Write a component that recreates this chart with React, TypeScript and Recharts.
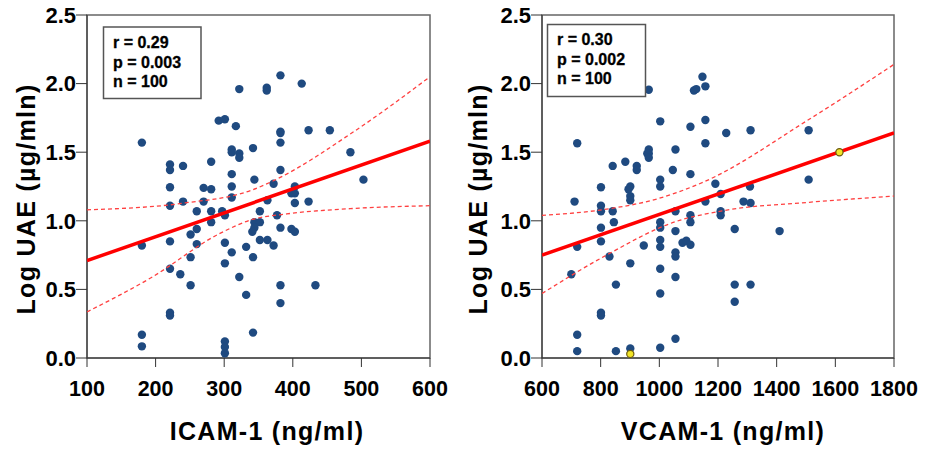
import React from 'react';
import { ScatterChart, Scatter, XAxis, YAxis, ReferenceArea } from 'recharts';

// ---------- data ----------
const icamX = [180, 221, 221, 240, 281, 292, 301, 317, 322, 311, 311, 322, 322, 311, 342, 344, 362, 362, 382, 382, 382, 382, 382, 413, 423, 454, 484, 503,
  221, 270, 281, 311, 372, 403, 403, 398, 403, 363, 311, 240, 221, 270, 260, 281, 297, 301, 352, 377, 423,
  281, 260, 344, 352, 344, 341, 382, 398, 403, 251, 221, 180, 260, 301, 352, 363, 372, 332, 311, 251, 342, 301,
  221, 236, 322, 251, 382, 433, 332, 382, 221, 221, 180, 180, 301, 301, 301, 342];
const icamUAE = [1.57, 1.41, 1.37, 1.40, 1.43, 1.73, 1.74, 1.69, 1.96, 1.52, 1.50, 1.49, 1.46, 1.34, 1.53, 1.30, 1.97, 1.95, 2.06, 1.65, 1.64, 1.57, 1.37, 2.00, 1.66, 1.66, 1.50, 1.30,
  1.245, 1.24, 1.23, 1.25, 1.27, 1.25, 1.20, 1.20, 1.13, 1.15, 1.17, 1.14, 1.11, 1.14, 1.07, 1.07, 1.07, 1.04, 1.07, 1.04, 1.14,
  0.99, 0.94, 0.99, 0.99, 0.95, 0.92, 0.95, 0.94, 0.92, 0.90, 0.85, 0.82, 0.83, 0.84, 0.86, 0.86, 0.82, 0.81, 0.77, 0.735, 0.735, 0.69,
  0.65, 0.61, 0.59, 0.53, 0.53, 0.53, 0.46, 0.40, 0.33, 0.31, 0.17, 0.085, 0.12, 0.08, 0.035, 0.185];

const vcamX = [720, 841, 884, 923, 923, 964, 964, 964, 959, 964, 1003, 1003, 1046, 1055, 1106, 1106, 1118, 1126, 1147, 1157, 1157, 1157, 1228, 1311, 1509, 1509,
  801, 895, 901, 1003, 1191, 1309, 901, 901, 711, 801, 801, 841, 1055, 1157, 1209, 1287, 1311,
  845, 1003, 1003, 1106, 1106, 1209, 1209, 801, 1055, 1257, 1410, 801, 720, 947, 1003, 1003, 1079, 1092, 1106,
  830, 1055, 1055, 901, 1003, 700, 1055, 852, 1257, 1311, 1003, 1257, 801, 801, 720, 1055, 720, 852, 901, 1003];
const vcamUAE = [1.565, 1.40, 1.43, 1.40, 1.37, 1.955, 1.52, 1.49, 1.49, 1.46, 1.725, 1.30, 1.37, 1.52, 1.685, 1.34, 1.95, 1.96, 2.05, 1.98, 1.735, 1.565, 1.64, 1.66, 1.66, 1.30,
  1.245, 1.23, 1.25, 1.25, 1.27, 1.25, 1.18, 1.15, 1.14, 1.11, 1.07, 1.07, 1.07, 1.14, 1.195, 1.14, 1.13,
  0.99, 0.99, 0.95, 1.04, 0.99, 1.07, 1.04, 0.95, 0.925, 0.94, 0.925, 0.85, 0.81, 0.82, 0.86, 0.81, 0.84, 0.855, 0.825,
  0.74, 0.77, 0.74, 0.69, 0.65, 0.61, 0.59, 0.535, 0.535, 0.535, 0.47, 0.41, 0.33, 0.31, 0.17, 0.14, 0.05, 0.05, 0.07, 0.075];
const vcamHighlightX = [1614, 901];
const vcamHighlightUAE = [1.50, 0.03];

// regression lines and 95% CI bands
const icamFitX = [100, 600];
const icamFitY = [0.71, 1.58];
const icamUpperX = [100, 243, 341, 371, 489, 600];
const icamUpperY = [1.08, 1.13, 1.225, 1.29, 1.65, 2.05];
const icamLowerX = [100, 194, 293, 341, 391, 489, 600];
const icamLowerY = [0.336, 0.587, 0.906, 1.01, 1.05, 1.09, 1.11];

const vcamFitX = [600, 1800];
const vcamFitY = [0.75, 1.64];
const vcamUpperX = [600, 820, 993, 1148, 1511, 1800];
const vcamUpperY = [1.04, 1.085, 1.16, 1.28, 1.74, 2.14];
const vcamLowerX = [600, 820, 1050, 1222, 1511, 1800];
const vcamLowerY = [0.47, 0.75, 0.99, 1.075, 1.135, 1.18];

const yTicks = [0, 0.5, 1.0, 1.5, 2.0, 2.5];
const icamTicks = [100, 200, 300, 400, 500, 600];
const vcamTicks = [600, 800, 1000, 1200, 1400, 1600, 1800];

const icamStats = ['r = 0.29', 'p = 0.003', 'n = 100'];
const vcamStats = ['r = 0.30', 'p = 0.002', 'n = 100'];

const yTitle = 'Log UAE (\u00b5g/mln)';

// ---------- helpers ----------
const zip = (xs: number[], ys: number[]) => xs.map((x, i) => ({ x, y: ys[i] }));
const FONT = '"Liberation Sans", Arial, Helvetica, sans-serif';

const Dot = (p: any) => <circle cx={p.cx} cy={p.cy} r={4.2} fill="#1f4a80" />;
const YellowDot = (p: any) => <circle cx={p.cx} cy={p.cy} r={3.6} fill="#f2e425" stroke="#6b5a10" strokeWidth={1.2} />;
const NoShape = () => <g />;

type PanelProps = {
  points: { x: number; y: number }[];
  highlight?: { x: number; y: number }[];
  fit: { x: number; y: number }[];
  upper: { x: number; y: number }[];
  lower: { x: number; y: number }[];
  xDomain: [number, number];
  xTicks: number[];
  xTitle: string;
  yAxisWidth: number;
  xTitleX: number;
  yTitleX: number;
};

function Panel(props: PanelProps) {
  const { points, highlight, fit, upper, lower, xDomain, xTicks, xTitle, yAxisWidth, xTitleX, yTitleX } = props;
  return (
    <ScatterChart width={463} height={450} margin={{ top: 15, right: 463 - yAxisWidth - 344 - (yAxisWidth === 87 ? -1 : 8), bottom: 0, left: 0 }}>
      <XAxis
        type="number"
        dataKey="x"
        domain={xDomain}
        ticks={xTicks}
        allowDataOverflow
        height={92}
        tickSize={9}
        tickMargin={14}
        stroke="#333"
        tick={{ fill: '#000', fontSize: 21.5, fontWeight: 700, fontFamily: FONT }}
        label={() => (
          <text x={xTitleX} y={440} textAnchor="middle" fontFamily={FONT} fontSize={25} fontWeight={700} letterSpacing={1.3} fill="#000">
            {xTitle}
          </text>
        )}
      />
      <YAxis
        type="number"
        dataKey="y"
        domain={[0, 2.5]}
        ticks={yTicks}
        allowDataOverflow
        width={yAxisWidth}
        tickSize={11}
        tickMargin={0}
        stroke="#333"
        tickFormatter={(v: number) => v.toFixed(1)}
        tick={{ fill: '#000', fontSize: 22, fontWeight: 700, fontFamily: FONT }}
        label={() => (
          <text
            x={yTitleX}
            y={199}
            transform={`rotate(-90 ${yTitleX} 199)`}
            textAnchor="middle"
            dominantBaseline="central"
            fontFamily={FONT}
            fontSize={25}
            fontWeight={700}
            letterSpacing={1.3}
            fill="#000"
          >
            {yTitle}
          </text>
        )}
      />
      <ReferenceArea x1={xDomain[0]} x2={xDomain[1]} y1={0} y2={2.5} fill="#fff" fillOpacity={0} stroke="#666" strokeWidth={1.5} ifOverflow="visible" />
      <Scatter data={points} shape={Dot} isAnimationActive={false} />
      <Scatter data={upper} shape={NoShape} line={{ stroke: '#ff4040', strokeWidth: 1.3, strokeDasharray: '4 3' }} lineJointType="monotoneX" isAnimationActive={false} />
      <Scatter data={lower} shape={NoShape} line={{ stroke: '#ff4040', strokeWidth: 1.3, strokeDasharray: '4 3' }} lineJointType="monotoneX" isAnimationActive={false} />
      <Scatter data={fit} shape={NoShape} line={{ stroke: '#ff0000', strokeWidth: 3.5 }} isAnimationActive={false} />
      {highlight ? <Scatter data={highlight} shape={YellowDot} isAnimationActive={false} /> : null}
    </ScatterChart>
  );
}

function StatsBox({ x, y, w, h, lines, tx, baselines }: { x: number; y: number; w: number; h: number; lines: string[]; tx: number; baselines: number[] }) {
  return (
    <g>
      <rect x={x} y={y} width={w} height={h} fill="#fff" stroke="#555" strokeWidth={1.5} />
      {lines.map((t, i) => (
        <text key={i} x={tx} y={baselines[i]} fontFamily={FONT} fontSize={16} fontWeight={700} fill="#000" stroke="#000" strokeWidth={0.3}>
          {t}
        </text>
      ))}
    </g>
  );
}

export default function App() {
  const icamPts = zip(icamX, icamUAE);
  const vcamPts = zip(vcamX, vcamUAE);
  return (
    <div style={{ position: 'absolute', left: 0, top: 0, width: 926, height: 450, background: '#fff', fontFamily: FONT }}>
      <div style={{ position: 'absolute', left: 0, top: 0 }}>
        <Panel
          points={icamPts}
          fit={zip(icamFitX, icamFitY)}
          upper={zip(icamUpperX, icamUpperY)}
          lower={zip(icamLowerX, icamLowerY)}
          xDomain={[100, 600]}
          xTicks={icamTicks}
          xTitle="ICAM-1 (ng/ml)"
          yAxisWidth={87}
          xTitleX={267}
          yTitleX={26}
        />
      </div>
      <div style={{ position: 'absolute', left: 463, top: 0 }}>
        <Panel
          points={vcamPts}
          highlight={zip(vcamHighlightX, vcamHighlightUAE)}
          fit={zip(vcamFitX, vcamFitY)}
          upper={zip(vcamUpperX, vcamUpperY)}
          lower={zip(vcamLowerX, vcamLowerY)}
          xDomain={[600, 1800]}
          xTicks={vcamTicks}
          xTitle="VCAM-1 (ng/ml)"
          yAxisWidth={79}
          xTitleX={260}
          yTitleX={15}
        />
      </div>
      <svg width={926} height={450} style={{ position: 'absolute', left: 0, top: 0, pointerEvents: 'none' }}>
        <StatsBox x={103.5} y={27} w={97.5} h={71.5} lines={icamStats} tx={113} baselines={[48, 67.5, 87]} />
        <StatsBox x={547.5} y={24.5} w={98} h={72} lines={vcamStats} tx={557} baselines={[45, 65, 84]} />
      </svg>
    </div>
  );
}
